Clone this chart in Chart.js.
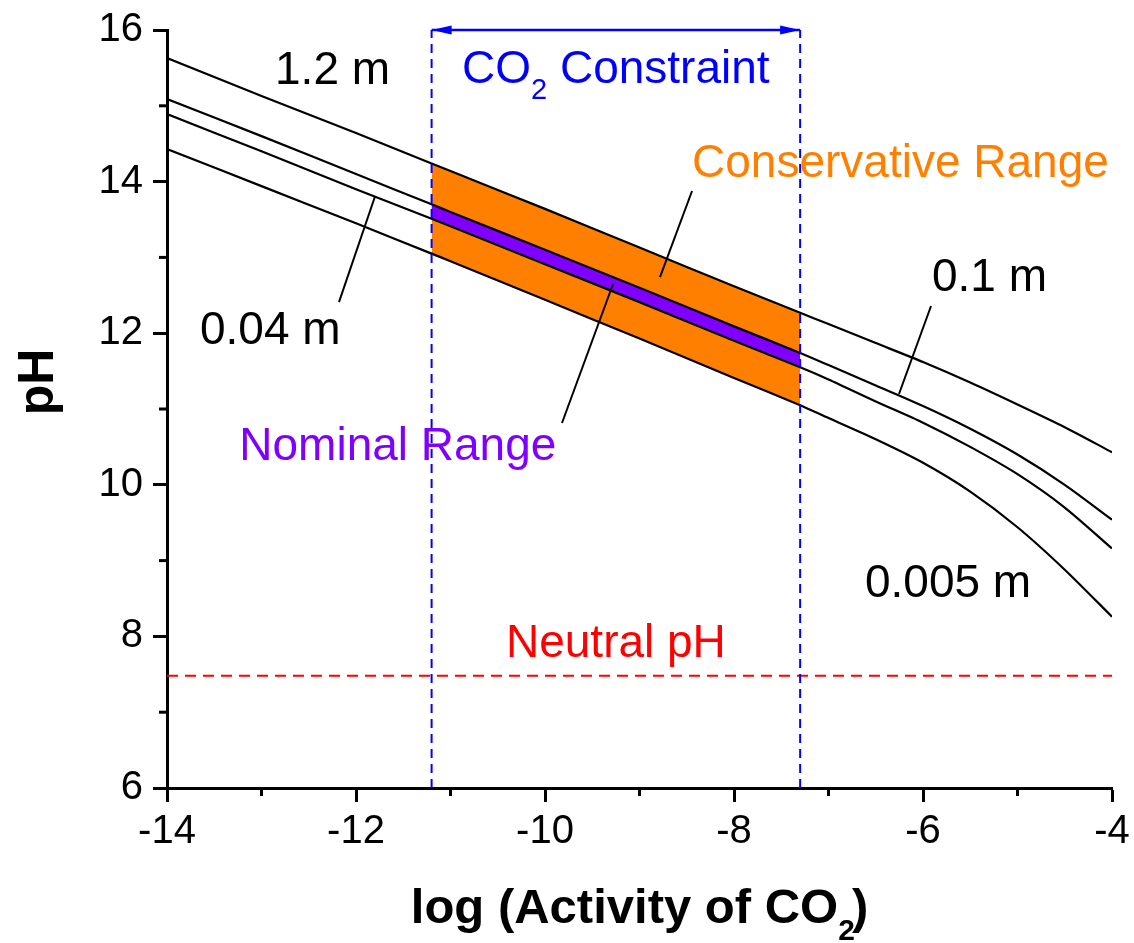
<!DOCTYPE html>
<html><head><meta charset="utf-8">
<script src="https://cdn.jsdelivr.net/npm/chart.js@4.4.1/dist/chart.umd.min.js"></script>
<style>html,body{margin:0;padding:0;background:#fff;}canvas{display:block;}</style>
</head><body>
<canvas id="c" width="1134" height="943"></canvas>
<script>
// ---- data ----
const xValues   = [-14, -13, -12, -11.2, -11, -10, -9, -8, -7.3, -7, -6.5, -6, -5.5, -5, -4.5, -4];
const ph_1_2m   = [15.63, 15.13, 14.64, 14.24, 14.14, 13.64, 13.13, 12.62, 12.27, 12.12, 11.87, 11.62, 11.35, 11.06, 10.76, 10.43];
const ph_0_1m   = [15.09, 14.60, 14.10, 13.70, 13.60, 13.10, 12.60, 12.09, 11.74, 11.58, 11.31, 11.04, 10.74, 10.40, 10.00, 9.54];
const ph_0_04m  = [14.89, 14.40, 13.90, 13.51, 13.41, 12.91, 12.41, 11.90, 11.55, 11.39, 11.10, 10.82, 10.50, 10.14, 9.70, 9.16];
const ph_0_005m = [14.43, 13.94, 13.45, 13.05, 12.95, 12.44, 11.93, 11.41, 11.05, 10.88, 10.60, 10.29, 9.91, 9.44, 8.88, 8.26];
const curveNames = ['1.2 m', '0.1 m', '0.04 m', '0.005 m'];
const co2Constraint = [-11.2, -7.3];
const neutralPH = 7.48;
const xRange = [-14, -4];
const yRange = [6, 16];

// ---- annotation layout (data coordinates) ----
const textLabels = [
  {text: '1.2 m',              x: -12.857, y: 15.288, color: '#000000'},
  {text: '0.1 m',              x: -5.905,  y: 12.557, color: '#000000'},
  {text: '0.04 m',             x: -13.651, y: 11.858, color: '#000000'},
  {text: '0.005 m',            x: -6.614,  y: 8.520,  color: '#000000'},
  {text: 'Conservative Range', x: -8.444,  y: 14.061, color: '#FF8000'},
  {text: 'Nominal Range',      x: -13.235, y: 10.327, color: '#8000FF'},
  {text: 'Neutral pH',         x: -10.413, y: 7.728,  color: '#FF0000'}
];
const leaders = [
  [-12.18, 12.41, -11.80, 13.80],
  [-8.444, 13.876, -8.783, 12.741],
  [-9.82, 10.815, -9.28, 12.649],
  [-5.915, 12.359, -6.254, 11.198]
];
const constraintTitle = {x: -10.878, y: 15.301};

const FONT = '"Liberation Sans", Arial, Helvetica, sans-serif';
const LABEL_PX = 46;

function pts(arr) { return xValues.map((x, i) => ({x: x, y: arr[i]})); }
function bandPts(arr) {
  return pts(arr).filter(p => p.x >= co2Constraint[0] - 1e-9 && p.x <= co2Constraint[1] + 1e-9);
}
function curve(arr, name) {
  return {label: name, data: pts(arr), borderColor: '#000', borderWidth: 2.2, pointRadius: 0,
          fill: false, tension: 0.25, order: 5};
}

const datasets = [
  {label: 'Conservative top', data: bandPts(ph_1_2m), borderWidth: 0, pointRadius: 0,
   backgroundColor: '#FF8000', fill: '+1', order: 11},
  {label: 'Conservative bottom', data: bandPts(ph_0_005m), borderWidth: 0, pointRadius: 0,
   fill: false, order: 11},
  {label: 'Nominal top', data: bandPts(ph_0_1m), borderWidth: 0, pointRadius: 0,
   backgroundColor: '#8000FF', fill: '+1', order: 10},
  {label: 'Nominal bottom', data: bandPts(ph_0_04m), borderWidth: 0, pointRadius: 0,
   fill: false, order: 10},
  curve(ph_1_2m, curveNames[0]),
  curve(ph_0_1m, curveNames[1]),
  curve(ph_0_04m, curveNames[2]),
  curve(ph_0_005m, curveNames[3]),
  {label: 'CO2 low', data: [{x: co2Constraint[0], y: yRange[0]}, {x: co2Constraint[0], y: yRange[1]}],
   borderColor: '#0000FF', borderWidth: 2, borderDash: [9, 6], pointRadius: 0, fill: false, order: 1, clip: false},
  {label: 'CO2 high', data: [{x: co2Constraint[1], y: yRange[0]}, {x: co2Constraint[1], y: yRange[1]}],
   borderColor: '#0000FF', borderWidth: 2, borderDash: [9, 6], pointRadius: 0, fill: false, order: 1, clip: false},
  {label: 'CO2 arrow', data: [{x: co2Constraint[0], y: yRange[1]}, {x: co2Constraint[1], y: yRange[1]}],
   borderColor: '#0000FF', borderWidth: 2.5, pointRadius: 0, fill: false, order: 1, clip: false},
  {label: 'Neutral pH', data: [{x: xRange[0], y: neutralPH}, {x: xRange[1], y: neutralPH}],
   borderColor: '#FF0000', borderWidth: 2, borderDash: [11, 7], pointRadius: 0, fill: false, order: 1, clip: false}
];

const annot = {
  id: 'annot',
  afterDatasetsDraw(chart) {
    const ctx = chart.ctx, xs = chart.scales.x, ys = chart.scales.y, ca = chart.chartArea;
    const X = v => xs.getPixelForValue(v), Y = v => ys.getPixelForValue(v);
    ctx.save();
    // minor ticks
    ctx.strokeStyle = '#000'; ctx.lineWidth = 3;
    xs.ticks.forEach(t => { if (Math.abs(t.value % 2) > 1e-9) {
      const px = X(t.value); ctx.beginPath(); ctx.moveTo(px, ca.bottom); ctx.lineTo(px, ca.bottom + 8); ctx.stroke(); }});
    ys.ticks.forEach(t => { if (Math.abs(t.value % 2) > 1e-9) {
      const py = Y(t.value); ctx.beginPath(); ctx.moveTo(ca.left, py); ctx.lineTo(ca.left - 8, py); ctx.stroke(); }});
    // arrow heads
    ctx.fillStyle = '#0000FF';
    const ay = Y(yRange[1]);
    const l = X(co2Constraint[0]), r = X(co2Constraint[1]);
    ctx.beginPath(); ctx.moveTo(l, ay); ctx.lineTo(l + 20, ay - 4.5); ctx.lineTo(l + 20, ay + 4.5); ctx.closePath(); ctx.fill();
    ctx.beginPath(); ctx.moveTo(r, ay); ctx.lineTo(r - 20, ay - 4.5); ctx.lineTo(r - 20, ay + 4.5); ctx.closePath(); ctx.fill();
    // leader lines
    ctx.strokeStyle = '#000'; ctx.lineWidth = 2;
    leaders.forEach(s => { ctx.beginPath(); ctx.moveTo(X(s[0]), Y(s[1])); ctx.lineTo(X(s[2]), Y(s[3])); ctx.stroke(); });
    // text labels
    ctx.textBaseline = 'alphabetic'; ctx.textAlign = 'left';
    ctx.font = LABEL_PX + 'px ' + FONT;
    textLabels.forEach(t => { ctx.fillStyle = t.color; ctx.fillText(t.text, X(t.x), Y(t.y)); });
    // CO2 Constraint
    let cx = X(constraintTitle.x), cy = Y(constraintTitle.y);
    ctx.fillStyle = '#0000FF';
    ctx.fillText('CO', cx, cy); cx += ctx.measureText('CO').width;
    ctx.font = '29px ' + FONT; ctx.fillText('2', cx, cy + 16); cx += ctx.measureText('2').width;
    ctx.font = LABEL_PX + 'px ' + FONT; ctx.fillText(' Constraint', cx, cy);
    // x axis title
    ctx.fillStyle = '#000';
    const big = 'bold 49px ' + FONT, small = 'bold 30px ' + FONT;
    ctx.font = big; const w1 = ctx.measureText('log (Activity of CO').width, w3 = ctx.measureText(')').width;
    ctx.font = small; const w2 = ctx.measureText('2').width;
    let tx = (ca.left + ca.right) / 2 - (w1 + w2 + w3 - 3) / 2;
    const ty = ca.bottom + 135;
    ctx.font = big; ctx.fillText('log (Activity of CO', tx, ty); tx += w1;
    ctx.font = small; ctx.fillText('2', tx, ty + 17); tx += w2 - 3;
    ctx.font = big; ctx.fillText(')', tx, ty);
    // y axis title
    ctx.translate(53, (ca.top + ca.bottom) / 2 - 27);
    ctx.rotate(-Math.PI / 2);
    ctx.textAlign = 'center';
    ctx.font = 'bold 50px ' + FONT;
    ctx.fillText('pH', 0, 0);
    ctx.restore();
  }
};

const tickColor = c => (c.tick && Math.abs(c.tick.value % 2) < 1e-9) ? '#000' : 'rgba(0,0,0,0)';

new Chart(document.getElementById('c'), {
  type: 'line',
  data: {datasets: datasets},
  options: {
    responsive: false, animation: false,
    layout: {padding: {top: 30, right: 22, left: 0, bottom: 0}},
    plugins: {legend: {display: false}, tooltip: {enabled: false}},
    scales: {
      x: {type: 'linear', min: xRange[0], max: xRange[1],
          ticks: {stepSize: 1, autoSkip: false, maxRotation: 0, padding: 6, color: '#000',
                  font: {family: FONT, size: 40},
                  callback: v => (Math.abs(v % 2) < 1e-9 ? String(v) : '')},
          grid: {drawOnChartArea: false, drawTicks: true, tickLength: 14, tickWidth: 3, tickColor: tickColor},
          border: {display: true, color: '#000', width: 3},
          afterFit: s => { s.height = 155; s.paddingLeft = 0; s.paddingRight = 0; }},
      y: {type: 'linear', min: yRange[0], max: yRange[1],
          ticks: {stepSize: 1, autoSkip: false, padding: 10, color: '#000',
                  font: {family: FONT, size: 40},
                  callback: v => (Math.abs(v % 2) < 1e-9 ? String(v) : '')},
          grid: {drawOnChartArea: false, drawTicks: true, tickLength: 14, tickWidth: 3, tickColor: tickColor},
          border: {display: true, color: '#000', width: 3},
          afterFit: s => { s.width = 167; s.paddingTop = 0; s.paddingBottom = 0; }}
    }
  },
  plugins: [annot]
});
</script>
</body></html>
